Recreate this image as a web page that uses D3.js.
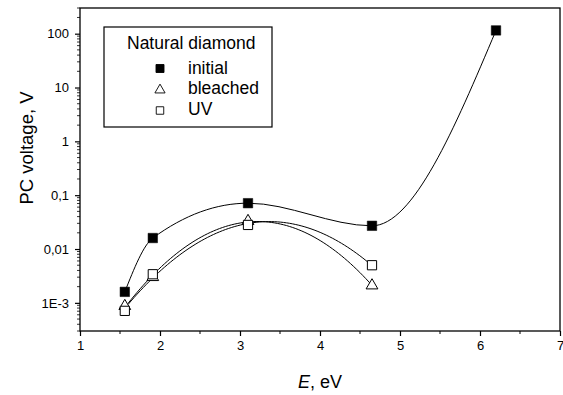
<!DOCTYPE html>
<html>
<head>
<meta charset="utf-8">
<script src="https://cdn.jsdelivr.net/npm/d3@7"></script>
<style>
  html, body { margin: 0; padding: 0; background: #fff; }
  svg { display: block; font-family: "Liberation Sans", Arial, sans-serif; }
</style>
</head>
<body>
<svg id="chart" width="563" height="395"></svg>
<script>
// ---- data ----
const energyInitial = [1.56, 1.91, 3.1, 4.65, 6.2];
const initialValues = [0.0016, 0.016, 0.071, 0.027, 115];
const energyTreated = [1.56, 1.91, 3.1, 4.65];
const bleachedValues = [0.00087, 0.0030, 0.033, 0.0021];
const uvValues = [0.00071, 0.0034, 0.028, 0.0050];
const xTickValues = [1, 2, 3, 4, 5, 6, 7];
const yTickValues = [0.001, 0.01, 0.1, 1, 10, 100];
const yTickLabels = ["1E-3", "0,01", "0,1", "1", "10", "100"];
const legendTitle = "Natural diamond";
const seriesNames = ["initial", "bleached", "UV"];

const svg = d3.select("#chart");
const mLeft = 80, mRight = 560, mTop = 8, mBottom = 331;

const x = d3.scaleLinear().domain([1, 7]).range([mLeft, mRight]);
const y = d3.scaleLog().domain([3e-4, 300]).range([mBottom, mTop]);

// frame
svg.append("rect").attr("x", mLeft).attr("y", mTop)
  .attr("width", mRight - mLeft).attr("height", mBottom - mTop)
  .attr("fill", "none").attr("stroke", "#000").attr("stroke-width", 1.3);

// x axis
const xMinor = d3.range(1.5, 7, 1);
const gx = svg.append("g").attr("transform", `translate(0,${mBottom})`);
gx.call(d3.axisBottom(x).tickValues(xTickValues).tickFormat(d3.format("d")).tickSize(5).tickPadding(5))
  .call(g => g.select(".domain").remove());
gx.selectAll(".tick text").attr("font-size", 13).attr("fill", "#000").attr("font-family", "Liberation Sans, Arial, sans-serif");
gx.selectAll(".tick line").attr("stroke-width", 1.2);
gx.selectAll(".minor").data(xMinor).enter().append("line")
  .attr("x1", d => x(d)).attr("x2", d => x(d)).attr("y1", 0).attr("y2", 3)
  .attr("stroke", "#000").attr("stroke-width", 1);

// y axis
const gy = svg.append("g").attr("transform", `translate(${mLeft},0)`);
gy.call(d3.axisLeft(y).tickValues(yTickValues)
    .tickFormat((d, i) => yTickLabels[i]).tickSize(5).tickPadding(6))
  .call(g => g.select(".domain").remove());
gy.selectAll(".tick text").attr("font-size", 13).attr("fill", "#000").attr("font-family", "Liberation Sans, Arial, sans-serif");
gy.selectAll(".tick line").attr("stroke-width", 1.2);
const yMinor = [];
for (let e = -4; e <= 2; e++) for (let m = 2; m <= 9; m++) {
  const v = m * Math.pow(10, e);
  if (v >= 3e-4 && v <= 300) yMinor.push(v);
}
gy.selectAll(".minor").data(yMinor).enter().append("line")
  .attr("x1", -3).attr("x2", 0).attr("y1", d => y(d)).attr("y2", d => y(d))
  .attr("stroke", "#000").attr("stroke-width", 0.8);

// axis titles
svg.append("text").attr("transform", `translate(33,148) rotate(-90)`)
  .attr("text-anchor", "middle").attr("font-size", 18.5).text("PC voltage, V");
const xt = svg.append("text").attr("x", x(4)).attr("y", 388)
  .attr("text-anchor", "middle").attr("font-size", 18);
xt.append("tspan").attr("font-style", "italic").text("E");
xt.append("tspan").text(", eV");

// ---- curves ----
const initPts = energyInitial.map((e, i) => [e, initialValues[i]]);
svg.append("path")
  .attr("d", d3.line().x(d => x(d[0])).y(d => y(d[1])).curve(d3.curveMonotoneX)(initPts))
  .attr("fill", "none").attr("stroke", "#000").attr("stroke-width", 1);

// bleached & UV: least-squares parabola in log10 space
function quadFit(xs, ys) {
  const ly = ys.map(v => Math.log10(v));
  let S = [[0,0,0],[0,0,0],[0,0,0]], b = [0,0,0];
  xs.forEach((xv, i) => {
    const p = [1, xv, xv * xv];
    for (let r = 0; r < 3; r++) {
      b[r] += p[r] * ly[i];
      for (let c = 0; c < 3; c++) S[r][c] += p[r] * p[c];
    }
  });
  const A = S.map((row, i) => row.concat([b[i]]));
  for (let i = 0; i < 3; i++) {
    let piv = i;
    for (let r = i + 1; r < 3; r++) if (Math.abs(A[r][i]) > Math.abs(A[piv][i])) piv = r;
    [A[i], A[piv]] = [A[piv], A[i]];
    for (let r = 0; r < 3; r++) if (r !== i) {
      const f = A[r][i] / A[i][i];
      for (let c = i; c < 4; c++) A[r][c] -= f * A[i][c];
    }
  }
  const coef = A.map((row, i) => row[3] / row[i]);
  return xv => Math.pow(10, coef[0] + coef[1] * xv + coef[2] * xv * xv);
}
[bleachedValues, uvValues].forEach(vals => {
  const f = quadFit(energyTreated, vals);
  const x0 = d3.min(energyTreated) + 0.04, x1 = d3.max(energyTreated);
  const samples = d3.range(0, 81).map(k => x0 + (x1 - x0) * k / 80);
  svg.append("path")
    .attr("d", d3.line().x(d => x(d)).y(d => y(f(d))).curve(d3.curveLinear)(samples))
    .attr("fill", "none").attr("stroke", "#000").attr("stroke-width", 1);
});

// ---- markers ----
const sq = d3.symbol().type(d3.symbolSquare).size(90)();
const sqOpen = d3.symbol().type(d3.symbolSquare).size(85)();
const tri = d3.symbol().type(d3.symbolTriangle).size(60)();

svg.append("g").selectAll("path").data(bleachedValues).enter().append("path")
  .attr("d", tri).attr("transform", (d, i) => `translate(${x(energyTreated[i])},${y(d)})`)
  .attr("fill", "#fff").attr("stroke", "#000").attr("stroke-width", 1);
svg.append("g").selectAll("path").data(uvValues).enter().append("path")
  .attr("d", sqOpen).attr("transform", (d, i) => `translate(${x(energyTreated[i])},${y(d)})`)
  .attr("fill", "#fff").attr("stroke", "#000").attr("stroke-width", 1);
svg.append("g").selectAll("path").data(initialValues).enter().append("path")
  .attr("d", sq).attr("transform", (d, i) => `translate(${x(energyInitial[i])},${y(d)})`)
  .attr("fill", "#000").attr("stroke", "#000").attr("stroke-width", 0.5);

// ---- legend ----
const lg = svg.append("g");
lg.append("rect").attr("x", 104).attr("y", 27).attr("width", 168).attr("height", 100)
  .attr("fill", "#fff").attr("stroke", "#000").attr("stroke-width", 1.2);
lg.append("text").attr("x", 127).attr("y", 49).attr("font-size", 17.5).text(legendTitle);
const legSymbols = [
  { d: d3.symbol().type(d3.symbolSquare).size(64)(), fill: "#000" },
  { d: d3.symbol().type(d3.symbolTriangle).size(45)(), fill: "#fff" },
  { d: d3.symbol().type(d3.symbolSquare).size(56)(), fill: "#fff" }
];
const legY = [68.5, 90, 110.5];
const legBase = [73.5, 94, 114.5];
seriesNames.forEach((name, i) => {
  lg.append("path").attr("d", legSymbols[i].d)
    .attr("transform", `translate(160,${legY[i]})`)
    .attr("fill", legSymbols[i].fill).attr("stroke", "#000").attr("stroke-width", 0.9);
  lg.append("text").attr("x", 188).attr("y", legBase[i]).attr("font-size", 17.5).text(name);
});
</script>
</body>
</html>
